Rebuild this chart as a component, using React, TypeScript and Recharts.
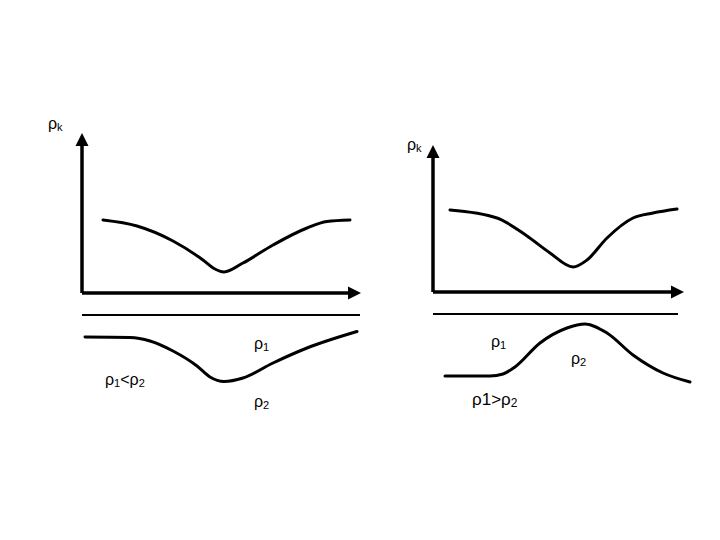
import { ComposedChart, Line, Scatter, XAxis, YAxis } from 'recharts';

// diagram units: one unit = one pixel of the 720x540 slide, y grows downwards
const LEFT_UPPER = [
    { x: 103, y: 220 }, { x: 137, y: 226 }, { x: 173, y: 241 }, { x: 203, y: 260 },
    { x: 214, y: 268.5 }, { x: 224, y: 272 }, { x: 243, y: 263 }, { x: 273, y: 245 },
    { x: 307, y: 228 }, { x: 327, y: 221.5 }, { x: 350, y: 220 },
];

const LEFT_LOWER = [
    { x: 85, y: 337 }, { x: 130, y: 337.5 }, { x: 150, y: 341 }, { x: 173, y: 351 },
    { x: 197, y: 366 }, { x: 210, y: 377 }, { x: 224, y: 381.5 }, { x: 243, y: 378 },
    { x: 273, y: 363 }, { x: 307, y: 348 }, { x: 357, y: 331.5 },
];

const RIGHT_UPPER = [
    { x: 450, y: 210 }, { x: 497, y: 218 }, { x: 527, y: 236 }, { x: 550, y: 253 },
    { x: 573, y: 267 }, { x: 587, y: 260 }, { x: 607, y: 238 }, { x: 633, y: 218 },
    { x: 653, y: 213 }, { x: 677, y: 209 },
];

const RIGHT_LOWER = [
    { x: 445, y: 376 }, { x: 490, y: 376 }, { x: 503, y: 374 }, { x: 515, y: 367 },
    { x: 540, y: 343 }, { x: 567, y: 328 }, { x: 585, y: 324 }, { x: 607, y: 333 },
    { x: 633, y: 355 }, { x: 663, y: 373 }, { x: 690, y: 382 },
];

const AXES = [
    [{ x: 82, y: 293 }, { x: 82, y: 140 }],
    [{ x: 82, y: 293 }, { x: 352, y: 293 }],
    [{ x: 433, y: 292 }, { x: 433, y: 152 }],
    [{ x: 433, y: 292 }, { x: 675, y: 292 }],
];

const SEPARATORS = [
    [{ x: 82, y: 315 }, { x: 360, y: 315 }],
    [{ x: 433, y: 314 }, { x: 678, y: 314 }],
];

const ARROW_TIPS = [
    { x: 82, y: 133, dir: 'up' },
    { x: 361, y: 293, dir: 'right' },
    { x: 433, y: 145, dir: 'up' },
    { x: 684, y: 292, dir: 'right' },
];

// text pieces: [text, isSubscript]
const LABELS = [
    { id: 'lk', x: 48, y: 129, parts: [['ρ', false], ['k', true]] },
    { id: 'rk', x: 407, y: 150, parts: [['ρ', false], ['k', true]] },
    { id: 'l1', x: 254, y: 348.5, parts: [['ρ', false], ['1', true]] },
    { id: 'l2', x: 254, y: 407, parts: [['ρ', false], ['2', true]] },
    { id: 'lcmp', x: 105, y: 385, parts: [['ρ', false], ['1', true], ['<', false], ['ρ', false], ['2', true]] },
    { id: 'r1', x: 491, y: 347, parts: [['ρ', false], ['1', true]] },
    { id: 'r2', x: 571, y: 363.5, parts: [['ρ', false], ['2', true]] },
    { id: 'rcmp', x: 472, y: 405, parts: [['ρ', false], ['1', false], ['>', false], ['ρ', false], ['2', true]] },
];

const BIG_LABELS = ['rcmp'];
const FONT = '"Liberation Sans", Arial, sans-serif';

function ArrowHead(props: any) {
    const { cx, cy, payload } = props;
    const len = 13;
    const half = 6.5;
    const pts = payload.dir === 'up'
        ? `${cx},${cy} ${cx - half},${cy + len} ${cx + half},${cy + len}`
        : `${cx},${cy} ${cx - len},${cy - half} ${cx - len},${cy + half}`;
    return <polygon points={pts} fill="#000" />;
}

function TextLabel(props: any) {
    const { cx, cy, payload } = props;
    const big = BIG_LABELS.includes(payload.id);
    const main = big ? 17 : 16;
    const sub = big ? 12 : 11;
    return (
        <text x={cx} y={cy} fontFamily={FONT} fontSize={main} fill="#000">
            {payload.parts.map(([t, isSub]: [string, boolean], i: number) => {
                const prevSub = i > 0 && payload.parts[i - 1][1];
                const dy = isSub && !prevSub ? 2 : !isSub && prevSub ? -2 : 0;
                return (
                    <tspan key={i} fontSize={isSub ? sub : main} dy={dy}>{t}</tspan>
                );
            })}
        </text>
    );
}

export default function App() {
    const curve = { type: 'monotone' as const, dataKey: 'y', stroke: '#000', strokeWidth: 3, dot: false, isAnimationActive: false, strokeLinecap: 'round' as const };
    return (
        <div style={{ position: 'absolute', left: 0, top: 0, width: 720, height: 540, background: '#fff' }}>
            <ComposedChart width={720} height={540} margin={{ top: 0, right: 0, bottom: 0, left: 0 }}>
                <XAxis type="number" dataKey="x" domain={[0, 720]} hide allowDataOverflow />
                <YAxis type="number" dataKey="y" domain={[0, 540]} reversed hide allowDataOverflow />
                {AXES.map((seg, i) => (
                    <Line key={`ax-${i}`} data={seg} type="linear" dataKey="y" stroke="#000" strokeWidth={3.5} dot={false} isAnimationActive={false} />
                ))}
                {SEPARATORS.map((seg, i) => (
                    <Line key={`sep-${i}`} data={seg} type="linear" dataKey="y" stroke="#000" strokeWidth={2} dot={false} isAnimationActive={false} />
                ))}
                <Line {...curve} data={LEFT_UPPER} />
                <Line {...curve} data={LEFT_LOWER} />
                <Line {...curve} data={RIGHT_UPPER} />
                <Line {...curve} data={RIGHT_LOWER} />
                <Scatter data={ARROW_TIPS} shape={(p: any) => <ArrowHead {...p} />} isAnimationActive={false} />
                <Scatter data={LABELS} shape={(p: any) => <TextLabel {...p} />} isAnimationActive={false} />
            </ComposedChart>
        </div>
    );
}
